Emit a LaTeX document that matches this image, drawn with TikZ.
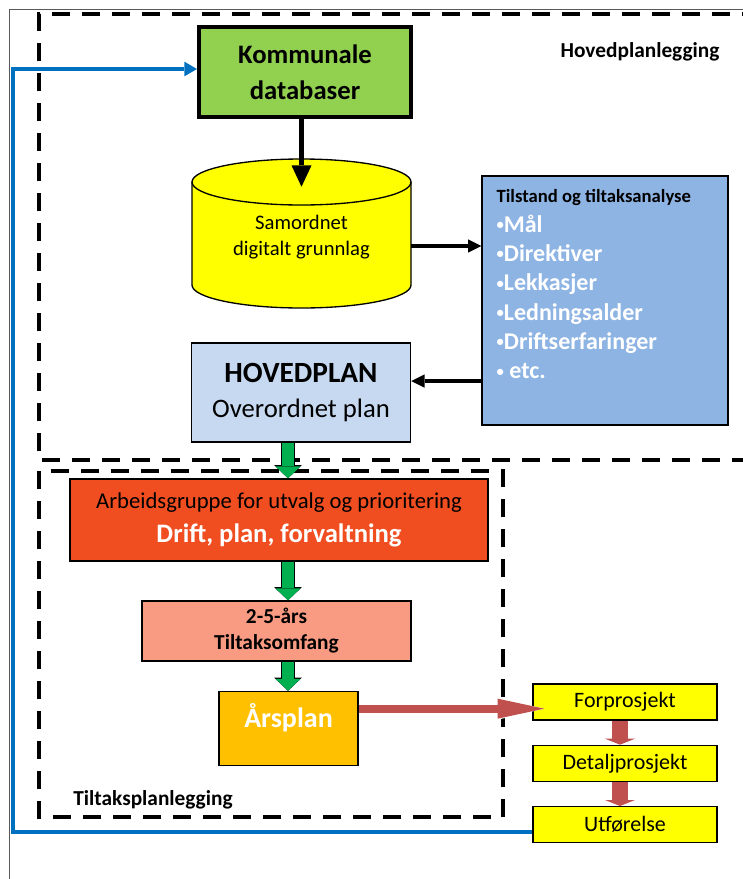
\documentclass[tikz,border=0pt]{standalone}
\usepackage{fontspec}
\setmainfont{Carlito}
\usetikzlibrary{positioning, arrows.meta, calc}

\definecolor{dbgreen}{HTML}{92D050}
\definecolor{dbyellow}{HTML}{FFFF00}
\definecolor{statusblue}{HTML}{8EB4E3}
\definecolor{planblue}{HTML}{C6D9F1}
\definecolor{groupred}{RGB}{240,78,32}
\definecolor{scopesalmon}{RGB}{248,155,130}
\definecolor{yearorange}{HTML}{FFC000}
\definecolor{flowgreen}{HTML}{00B050}
\definecolor{flowred}{HTML}{C0504D}
\definecolor{loopblue}{HTML}{0070C0}
\definecolor{framegray}{HTML}{595959}

\newcommand{\smallbullet}{\raisebox{2pt}{\fontsize{11}{22}\selectfont•}}

\begin{document}
\begin{tikzpicture}[
  x=0.75pt, y=-0.75pt,
  node distance=18pt,
  box/.style={draw, line width=1pt, align=center, inner sep=0pt},
  stepbox/.style={box, fill=dbyellow, minimum width=138pt, minimum height=27pt, font=\fontsize{16.5}{20}\selectfont},
  dashbox/.style={line width=3pt, dash pattern=on 13.5pt off 9pt},
  arrow/.style={-{Triangle[width=10pt, length=10pt, line width=0pt]}, line width=3pt},
  feedback/.style={draw=loopblue, line width=3pt, -{Triangle[width=11pt, length=9.5pt, line width=0pt]}},
  greenflow/.style={draw=flowgreen, line width=9pt, -{Triangle[width=18.75pt, length=9pt, line width=0pt]},
    preaction={draw=black, line width=10.5pt, -{Triangle[width=21pt, length=10pt, line width=0pt]}}},
  redflow/.style={draw=flowred, line width=6pt, -{Triangle[width=15pt, length=35pt, line width=0pt]},
    preaction={draw=white, line width=7.5pt, -{Triangle[width=17pt, length=36pt, line width=0pt]}}},
  redstep/.style={draw=flowred, line width=12pt, -{Triangle[width=22.5pt, length=4.5pt, line width=0pt]},
    preaction={draw=white, line width=13.5pt, -{Triangle[width=24pt, length=5pt, line width=0pt]}}},
  label/.style={font=\fontsize{16}{19}\selectfont\bfseries}
]
  \useasboundingbox (0,0) rectangle (743,879);

  % Frames
  \draw[framegray, line width=1pt] (9.5,879) -- (9.5,9.5) -- (743,9.5);
  \draw[dashbox] (760,14) -- (39,14) -- (39,460) -- (760,460);
  \draw[dashbox] (39,471) rectangle (503,817);
  \node[label] (hovedlabel) at (640,52) {Hovedplanlegging};
  \node[label] (tiltakslabel) at (153,800) {Tiltaksplanlegging};

  % Cylinder
  \filldraw[fill=dbyellow, line width=1pt] (192,182) -- (192,285)
    arc[start angle=180, end angle=360, x radius=82.125pt, y radius=17.25pt] -- (411,182)
    arc[start angle=0, end angle=180, x radius=82.125pt, y radius=17.25pt] -- cycle;
  \draw[line width=1pt] (192,182) arc[start angle=180, end angle=360, x radius=82.125pt, y radius=17.25pt];

  % Nodes
  \node[box, fill=dbgreen, line width=3pt, minimum width=159pt, minimum height=67.5pt,
    font=\fontsize{20}{27}\selectfont\bfseries] (kommunale) at (305,72) {Kommunale\\databaser};
  \node[align=center, font=\fontsize{15.5}{20}\selectfont, minimum width=164.25pt, minimum height=75pt]
    (grunnlag) at (301.5,237) {Samordnet\\digitalt grunnlag};
  \node[box, fill=statusblue, minimum width=184.5pt, minimum height=186.75pt] (tilstand) at (605,300.5) {};
  \node[anchor=north west, align=left, inner sep=0pt, text=white, font=\fontsize{18}{22}\selectfont\bfseries]
    (tilstandtext) at ($(tilstand.north west)+(15,14)$)
    {{\color{black}\fontsize{14}{22}\selectfont Tilstand og tiltaksanalyse}\\
     \smallbullet Mål\\\smallbullet Direktiver\\\smallbullet Lekkasjer\\\smallbullet Ledningsalder\\
     \smallbullet Driftserfaringer\\\smallbullet\ etc.};
  \node[box, fill=planblue, minimum width=164.25pt, minimum height=74.25pt, font=\fontsize{20}{26}\selectfont]
    (hovedplan) at (301,392.5) {{\fontsize{22}{26}\selectfont\bfseries HOVEDPLAN}\\Overordnet plan};
  \node[box, fill=groupred, minimum width=313.5pt, minimum height=61.5pt, font=\fontsize{17}{25}\selectfont]
    (arbeid) at (279,520) {Arbeidsgruppe for utvalg og prioritering\\
    {\color{white}\fontsize{20}{25}\selectfont\bfseries Drift, plan, forvaltning}};
  \node[box, fill=scopesalmon, minimum width=201.75pt, minimum height=45pt, font=\fontsize{16}{19.5}\selectfont\bfseries]
    (omfang) at (276.5,631) {2-5-års\\Tiltaksomfang};
  \node[box, fill=yearorange, minimum width=104.25pt, minimum height=55.5pt] (arsplan) at (288.5,728.5) {};
  \node[text=white, font=\fontsize{21}{25}\selectfont\bfseries] (arsplantext) at (288.5,718) {Årsplan};
  \node[stepbox] (forprosjekt) at (625,702) {Forprosjekt};
  \node[stepbox] (detalj) [below=of forprosjekt] {Detaljprosjekt};
  \node[stepbox] (utforelse) [below=of detalj] {Utførelse};

  % Edges
  \coordinate (flow) at (288,0);
  \coordinate (stepx) at (620,0);
  \coordinate (loop) at (13,832);
  \coordinate (cylout) at ([yshift=-6.75pt]grunnlag.east);
  \coordinate (planin) at ([yshift=8.6pt]hovedplan.east);
  \coordinate (redtip) at ([xshift=9pt, yshift=-5pt]forprosjekt.west);
  \draw[arrow, line width=3.5pt, -{Triangle[width=15pt, length=16pt, line width=0pt]}]
    (kommunale.south -| grunnlag.north) -- (grunnlag.north);
  \draw[arrow] (cylout) -- (cylout -| tilstand.west);
  \draw[arrow] (planin -| tilstand.west) -- (planin);
  \draw[greenflow] (hovedplan.south -| flow) -- (arbeid.north -| flow);
  \draw[greenflow] (arbeid.south -| flow) -- (omfang.north -| flow);
  \draw[greenflow] (omfang.south -| flow) -- (arsplan.north -| flow);
  \draw[redflow] (arsplan.east |- redtip) -- (redtip);
  \draw[redstep] (forprosjekt.south -| stepx) -- (detalj.north -| stepx);
  \draw[redstep] (detalj.south -| stepx) -- (utforelse.north -| stepx);
  \draw[feedback] (utforelse.west |- loop) -- (loop) |- ([yshift=2.25pt]kommunale.west);

\end{tikzpicture}
\end{document}
